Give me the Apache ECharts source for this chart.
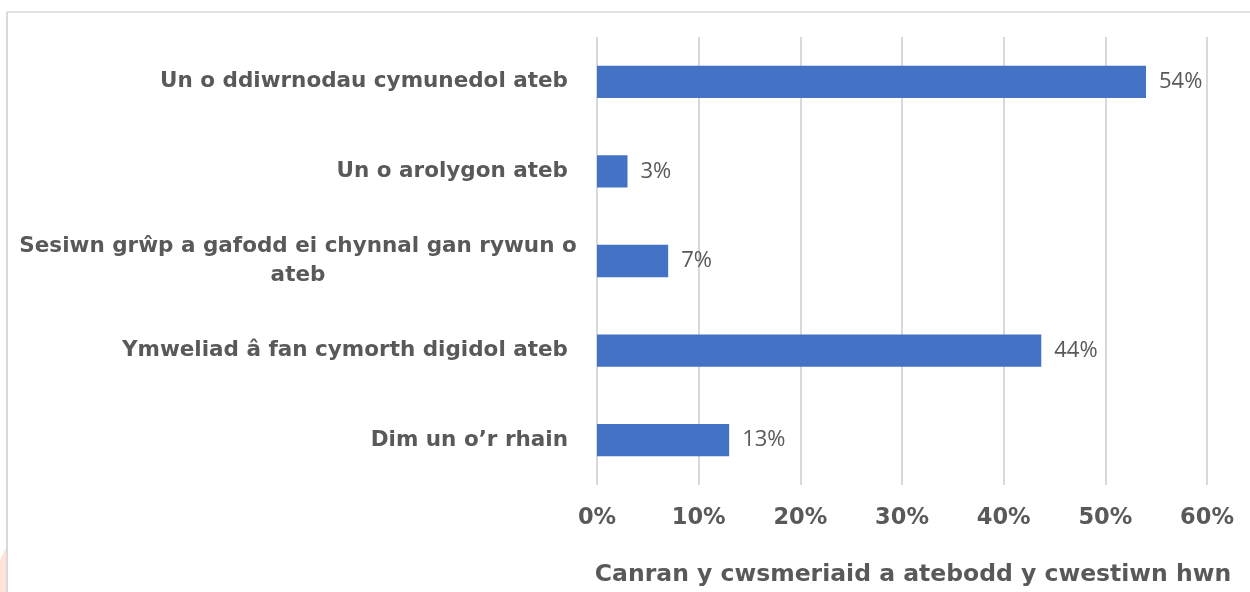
<!DOCTYPE html>
<html><head><meta charset="utf-8">
<script src="https://cdn.jsdelivr.net/npm/echarts@6/dist/echarts.min.js"></script>
<style>html,body{margin:0;padding:0;background:#fff}#c{width:1250px;height:592px}</style>
</head><body><div id="c"></div>
<script>
const categories = [
  "Un o ddiwrnodau cymunedol ateb",
  "Un o arolygon ateb",
  "Sesiwn grŵp a gafodd ei chynnal gan rywun o ateb",
  "Ymweliad â fan cymorth digidol ateb",
  "Dim un o’r rhain"
];
const values = [54, 3, 7, 43.7, 13];
const valueLabels = ["54%", "3%", "7%", "44%", "13%"];
const xTicks = [0, 10, 20, 30, 40, 50, 60];
const xTitle = "Canran y cwsmeriaid a atebodd y cwestiwn hwn";

const chart = echarts.init(document.getElementById('c'));
const txt = '#595959';
const bold = 'DejaVu Sans';
chart.setOption({
  animation: false,
  grid: {left: 597, right: 43, top: 37, bottom: 107, containLabel: false},
  xAxis: {
    type: 'value', min: xTicks[0], max: xTicks[xTicks.length-1], interval: 10,
    axisLine: {show: false}, axisTick: {show: false},
    splitLine: {lineStyle: {color: '#d9d9d9', width: 2}},
    axisLabel: {formatter: v => v + '%', color: txt, fontFamily: bold, fontWeight: 'bold', fontSize: 22.5, margin: 22},
    name: xTitle, nameLocation: 'middle', nameGap: 78,
    nameTextStyle: {color: txt, fontFamily: bold, fontWeight: 'bold', fontSize: 23.5, padding: [0,0,0,22]}
  },
  yAxis: {
    type: 'category', data: categories, inverse: true,
    axisLine: {show: false}, axisTick: {show: false},
    axisLabel: {
      margin: 29, color: txt, fontFamily: bold, fontWeight: 'bold', fontSize: 21.5,
      formatter: v => v.length > 40 ? '{c|Sesiwn grŵp a gafodd ei chynnal gan rywun o}\n{c|ateb}' : v,
      rich: {c: {width: 540, align: 'center', color: txt, fontFamily: bold, fontWeight: 'bold', fontSize: 21.5, lineHeight: 29}}
    }
  },
  series: [{
    type: 'bar', data: values, barCategoryGap: '64%',
    itemStyle: {color: '#4472C4'},
    label: {show: true, position: 'right', distance: 13, color: txt, fontFamily: 'Open Sans', fontSize: 22,
      formatter: p => valueLabels[p.dataIndex]}
  }],
  graphic: [
    {type: 'line', shape: {x1: 7, y1: 12, x2: 1250, y2: 12}, style: {stroke: '#d9d9d9', lineWidth: 1.5}},
    {type: 'line', shape: {x1: 7, y1: 12, x2: 7, y2: 592}, style: {stroke: '#d9d9d9', lineWidth: 2}},
    {type: 'polygon', shape: {points: [[0,560],[6,548],[6,592],[0,592]]}, style: {fill: '#fde3da'}}
  ]
});
</script></body></html>
